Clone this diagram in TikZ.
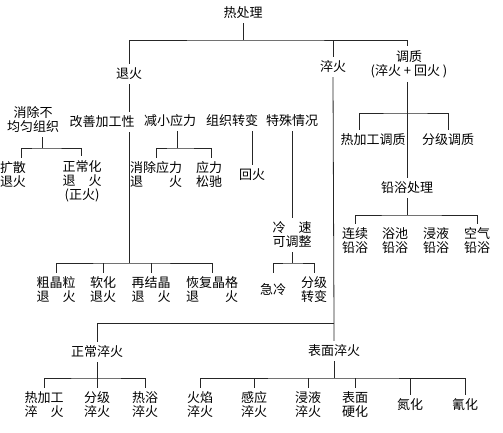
\documentclass[tikz,border=0pt]{standalone}
\usepackage{fontspec}
\setmainfont{Noto Sans CJK SC}
\begin{document}
\begin{tikzpicture}[x=1pt,y=-1pt,
  lbl/.style={inner xsep=1pt,inner ysep=4pt,align=center,font=\fontsize{13}{14}\selectfont},
  ln/.style={line width=0.8pt,black!85}]
\useasboundingbox (0,0) rectangle (503,433);
% nodes
\node[lbl] (rt) at (243,13) {热处理};
\node[lbl] (tui) at (129,74) {退火};
\node[lbl] (cui) at (333,67) {淬火};
\node[lbl] (tz) at (409,64) {调质\\(淬火 + 回火 )};
\node[lbl] (xc) at (33,120) {消除不\\均匀组织};
\node[lbl] (gs) at (102,122) {改善加工性};
\node[lbl] (jx) at (170,121) {减小应力};
\node[lbl] (zz) at (232,121) {组织转变};
\node[lbl] (ts) at (292,121) {特殊情况};
\node[lbl] (ks) at (13,175) {扩散\\退火};
\node[lbl] (zc) at (82,181) {正常化\\退\hspace{1em}火\\(正火)};
\node[lbl] (xcyl) at (156,175) {消除应力\\退\hspace{2em}火};
\node[lbl] (ylsc) at (209,175) {应力\\松驰};
\node[lbl] (hh) at (252,175) {回火};
\node[lbl] (lsk) at (292,235) {冷\hspace{1em}速\\可调整};
\node[lbl] (jl) at (273,290) {急冷};
\node[lbl] (fjzb) at (314,290) {分级\\转变};
\node[lbl] (cjl) at (56,290) {粗晶粒\\退\hspace{1em}火};
\node[lbl] (rh) at (103,290) {软化\\退火};
\node[lbl] (zjj) at (151,290) {再结晶\\退\hspace{1em}火};
\node[lbl] (hf) at (212,290) {恢复晶格\\退\hspace{2em}火};
\node[lbl] (rjg) at (373,140) {热加工调质};
\node[lbl] (fj) at (448,140) {分级调质};
\node[lbl] (qy) at (407,188) {铅浴处理};
\node[lbl] (lx) at (355,241) {连续\\铅浴};
\node[lbl] (yc) at (395,241) {浴池\\铅浴};
\node[lbl] (jy) at (436,241) {浸液\\铅浴};
\node[lbl] (kq) at (477,241) {空气\\铅浴};
\node[lbl] (zcq) at (97,352) {正常淬火};
\node[lbl] (bm) at (334,351) {表面淬火};
\node[lbl] (rjgc) at (44,405) {热加工\\淬\hspace{1em}火};
\node[lbl] (fjc) at (97,405) {分级\\淬火};
\node[lbl] (ryc) at (145,405) {热浴\\淬火};
\node[lbl] (hy) at (200,405) {火焰\\淬火};
\node[lbl] (gy) at (254,405) {感应\\淬火};
\node[lbl] (jyc) at (308,405) {浸液\\淬火};
\node[lbl] (bmyh) at (355,405) {表面\\硬化};
\node[lbl] (dh) at (410,405) {氮化};
\node[lbl] (qh) at (465,405) {氰化};
% junctions
\coordinate (b0) at (243,40);
\coordinate (j1) at (42,148);
\coordinate (j2) at (177,148);
\coordinate (j3) at (292,263);
\coordinate (j4) at (129,263);
\coordinate (j5) at (407,113);
\coordinate (j6) at (407,215);
\coordinate (j7) at (334,323);
\coordinate (j8) at (97,378);
\coordinate (j9) at (334,378);
% connectors
\draw[ln] (rt) -- (b0);
\draw[ln] (tui.north) |- (b0) -| (j5 |- tz.north);
\draw[ln] (cui.north) -- (cui.north |- b0);
% anneal
\draw[ln] (tui.south) -- (tui.south |- gs.north);
\draw[ln] (tui.south |- gs.south) -- (j4);
\draw[ln] (cjl.north) |- (j4) -| (hf.north);
\draw[ln] (rh.north) -- (rh.north |- j4);
\draw[ln] (zjj.north) -- (zjj.north |- j4);
\draw[ln] (j1 |- xc.south) -- (j1);
\draw[ln] ([xshift=8pt]ks.north) |- (j1) -| ([xshift=-1pt]zc.north);
\draw[ln] (j2 |- jx.south) -- (j2);
\draw[ln] (xcyl.north) |- (j2) -| ([xshift=2pt]ylsc.north);
\draw[ln] (hh.north) -- (hh.north |- zz.south);
\draw[ln] (ts.south) -- (lsk.north);
\draw[ln] (lsk.south) -- (j3);
\draw[ln] (jl.north |- fjzb.north) |- (j3) -| (fjzb.north);
% tempering
\draw[ln] (j5 |- tz.south) -- (qy.north);
\draw[ln] ([xshift=-14pt]rjg.north) |- (j5) -| (fj.north);
\draw[ln] (qy.south) -- (j6);
\draw[ln] (lx.north) |- (j6) -| (kq.north);
% quench
\draw[ln] (cui.south) -- (j7) -- (bm.north);
\draw[ln] (zcq.north) |- (j7);
\draw[ln] (zcq.south) -- (fjc.north);
\draw[ln] (rjgc.north) |- (j8) -| (ryc.north);
\draw[ln] (bm.south) -- (j9);
\draw[ln] (hy.north) |- (j9) -| (qh.north);
\draw[ln] (gy.north) -- (gy.north |- j9);
\draw[ln] (jyc.north) -- (jyc.north |- j9);
\draw[ln] (bmyh.north) -- (bmyh.north |- j9);
\draw[ln] (dh.north) -- (dh.north |- j9);
\end{tikzpicture}
\end{document}
